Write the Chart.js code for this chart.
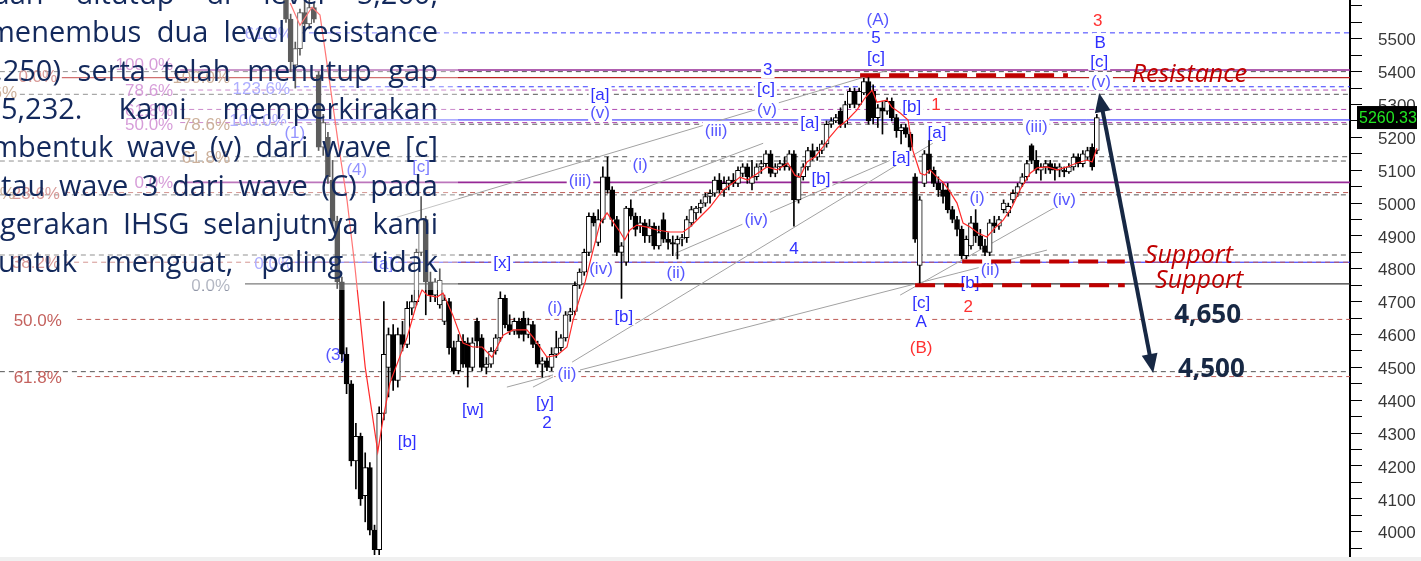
<!DOCTYPE html>
<html>
<head>
<meta charset="utf-8">
<script src="https://cdn.jsdelivr.net/npm/chart.js@4.4.1/dist/chart.umd.min.js"></script>
<style>
  body { margin: 0; background: #fff; }
  #wrap { position: relative; width: 1421px; height: 561px; overflow: hidden; background: #f0f0f0; }
  #chart { position: absolute; left: 0; top: 0; background: #fff; }
  #veil { position: absolute; left: 0; top: 0; width: 458px; height: 290px; background: rgba(255,255,255,0.36); }
  #para { position: absolute; left: 0; top: -25.9px; width: 458px; font: 29px "Open Sans", sans-serif; color: #13295c; }
  #para div { position: relative; height: 38.3px; line-height: 38.3px; display: flex; justify-content: space-between; white-space: nowrap; }
</style>
</head>
<body>
<div id="wrap">
  <canvas id="chart" width="1421" height="557" style="width:1421px;height:557px"></canvas>
  <div id="veil"></div>
  <div id="para"></div>
</div>
<script>
// daily IHSG candles (index 0 = first visible candle)
const opens = [5640,5560,5420,5470,5580,5545,5595,5390,5170,5200,
  5070,4945,4760,4540,4450,4215,4290,4110,4195,4005,
  3945,4360,4500,4600,4460,4600,4570,4680,4700,4850,
  4950,4760,4720,4690,4640,4700,4560,4490,4580,4575,
  4500,4640,4590,4500,4510,4550,4590,4710,4630,4610,
  4640,4650,4600,4630,4570,4510,4520,4500,4540,4560,
  4590,4660,4670,4750,4790,4850,4960,4880,4950,5080,
  5040,4950,4850,4820,4985,4960,4930,4940,4900,4930,
  4870,4950,4890,4880,4875,4890,4895,4940,4970,4985,
  5000,5020,5030,5070,5040,5060,5070,5060,5090,5110,
  5060,5080,5110,5120,5150,5090,5110,5120,5110,5150,
  5010,5080,5110,5160,5140,5160,5180,5240,5250,5280,
  5240,5300,5340,5300,5335,5370,5340,5260,5290,5280,
  5310,5260,5220,5230,5210,5080,4810,5060,5150,5100,
  5060,5040,5040,4980,4950,4920,4840,4870,4940,4900,
  4870,4850,4940,4930,4980,4970,5010,5030,5060,5080,
  5175,5130,5100,5110,5120,5110,5100,5100,5095,5110,
  5140,5120,5140,5170,5160];
const highs = [5670,5575,5490,5590,5620,5625,5610,5400,5270,5215,
  5130,4960,4775,4560,4460,4330,4300,4240,4210,4020,
  4380,4700,4620,4630,4620,4640,4700,4720,4860,5020,
  4960,4790,4770,4800,4720,4710,4580,4600,4600,4590,
  4590,4650,4600,4530,4560,4600,4730,4720,4660,4650,
  4650,4670,4650,4640,4580,4530,4530,4560,4610,4600,
  4670,4680,4760,4800,4860,4970,4970,4980,5110,5140,
  5050,4960,4880,4990,5010,4970,4960,4950,4950,4940,
  4930,4970,4910,4900,4900,4905,4960,4990,4990,5010,
  5030,5040,5080,5090,5080,5080,5090,5110,5120,5120,
  5130,5120,5130,5160,5160,5120,5130,5140,5160,5160,
  5090,5120,5170,5180,5170,5190,5250,5260,5270,5290,
  5310,5350,5350,5350,5380,5385,5360,5300,5310,5320,
  5320,5270,5240,5240,5215,5090,5020,5160,5190,5110,
  5080,5060,5060,4990,4960,4930,4900,4960,4980,4920,
  4890,4950,4960,4960,5010,5000,5040,5060,5090,5130,
  5180,5160,5120,5130,5130,5120,5120,5110,5120,5150,
  5150,5160,5170,5180,5270];
const lows = [5550,5400,5350,5450,5530,5530,5550,5160,5145,5060,
  4930,4740,4520,4420,4200,4130,4080,4030,3990,3930,
  3930,4340,4410,4430,4440,4550,4560,4660,4690,4840,
  4660,4700,4700,4680,4630,4540,4480,4480,4500,4440,
  4490,4560,4490,4480,4500,4540,4580,4620,4600,4600,
  4590,4580,4590,4560,4500,4470,4490,4490,4530,4550,
  4580,4640,4660,4740,4780,4840,4930,4870,4940,5030,
  4930,4840,4710,4810,4950,4900,4910,4880,4880,4860,
  4860,4880,4860,4840,4830,4870,4880,4930,4950,4970,
  4990,5000,5020,5030,5020,5040,5050,5050,5080,5060,
  5040,5070,5090,5110,5080,5080,5100,5100,5100,4930,
  5000,5070,5100,5130,5130,5150,5170,5230,5245,5230,
  5230,5290,5290,5295,5330,5240,5240,5230,5210,5270,
  5250,5200,5180,5200,5160,4880,4750,5050,5090,5050,
  5020,5000,4970,4940,4900,4830,4830,4860,4880,4860,
  4840,4840,4910,4920,4970,4960,5000,5020,5050,5070,
  5120,5090,5070,5090,5090,5070,5080,5080,5090,5100,
  5110,5110,5130,5100,5150];
const closes = [5560,5430,5470,5580,5545,5595,5560,5170,5245,5080,
  4945,4760,4540,4450,4215,4290,4100,4195,4005,3945,
  4360,4540,4600,4460,4600,4570,4680,4700,4850,4950,
  4760,4720,4760,4765,4705,4560,4490,4580,4510,4500,
  4575,4580,4500,4510,4550,4590,4710,4630,4610,4640,
  4600,4600,4630,4570,4510,4520,4500,4540,4560,4590,
  4660,4670,4750,4790,4850,4960,4940,4950,5080,5040,
  4950,4850,4870,4985,4960,4920,4940,4900,4930,4870,
  4910,4890,4880,4875,4890,4895,4950,4980,4985,5000,
  5020,5030,5070,5040,5060,5070,5060,5100,5110,5080,
  5080,5110,5120,5150,5090,5110,5120,5110,5150,5010,
  5080,5110,5160,5140,5160,5180,5240,5250,5260,5240,
  5300,5340,5300,5340,5370,5250,5260,5290,5280,5310,
  5260,5220,5230,5210,5170,4890,5010,5150,5100,5060,
  5040,5020,4980,4950,4920,4840,4890,4940,4900,4870,
  4850,4940,4930,4950,5000,4990,5030,5050,5080,5120,
  5130,5100,5110,5120,5100,5100,5110,5095,5110,5140,
  5120,5150,5160,5110,5260.33];

// red moving average, sampled along its path (candle index, price)
const maIdx = [0.9,3.0,5.6,7.3,9.4,11.2,13.1,14.8,17.0,19.7,20.8,22.3,26.0,28.1,29.2,
  30.3,32.4,33.7,35.8,38.0,40.1,42.1,44.2,45.3,46.6,48.7,51.7,53.0,56.0,58.2,
  60.3,61.6,63.1,64.2,65.9,67.4,68.9,70.2,71.7,72.7,73.8,75.3,77.5,79.6,82.4,
  85.2,86.7,88.8,91.0,93.8,95.9,97.4,99.1,100.6,103.2,105.4,107.7,109.2,110.3,111.8,
  113.5,115.2,116.7,118.5,120.4,122.5,124.2,125.8,126.8,129.0,130.0,131.8,133.5,134.5,136.1,
  137.1,138.2,139.7,141.0,142.5,144.0,145.3,146.8,148.5,150.4,152.1,153.9,155.8,157.5,159.7,
  161.2,163.3,165.5,167.6,169.7,171.9,173.0,174.0];
const maVal = [5609,5541,5596,5572,5365,5183,5009,4805,4501,4243,4340,4452,4592,4696,4736,
  4720,4714,4726,4659,4574,4562,4562,4531,4562,4598,4614,4614,4592,4531,4537,
  4562,4644,4714,4760,4857,4939,4970,4942,4912,4888,4918,4933,4927,4918,4912,
  4912,4927,4957,4988,5040,5061,5079,5070,5085,5110,5101,5122,5085,5079,5125,
  5140,5170,5201,5231,5252,5283,5319,5344,5307,5313,5292,5274,5253,5161,5091,
  5085,5101,5079,5064,5034,5000,4939,4927,4909,4897,4924,4948,4988,5040,5091,
  5107,5110,5101,5110,5122,5131,5125,5167];

// horizontal fibonacci / wave levels (price)
const levelPrices = [5518,5405,5400,5382,5354,5344,5331,5285,5253,5245,5240,5141,5128,
  5063,5032,5025,4842,4820,4820,4754,4646,4487,4472];

// support / resistance levels
const keyLevels = [5389, 4822, 4750];

// trend lines between wave points: [index, price]
const trendFrom = [[23.8,4957],[74.5,5033],[61.4,4516],[63.1,4492],[83.5,4847],[131.8,4720],[47.4,4440],[53.0,4440]];
const trendTo = [[129.0,5404],[102.4,5182],[138.8,5182],[163.3,4857],[131.3,5140],[168.9,5018],[57.3,4477],[57.3,4471]];

const yTickValues = [3950,4000,4050,4100,4150,4200,4250,4300,4350,4400,4450,4500,4550,4600,
  4650,4700,4750,4800,4850,4900,4950,5000,5050,5100,5150,5200,5250,5300,5350,5400,5450,5500,5550,5600];

const fibLabels = [
  ["61.8%",1.5,5518,"lav"],["100.0%",-24.2,5423,"pur"],["0.0%",-49.1,5387,"red"],
  ["100.0%",-12.0,5384,"brn"],["78.6%",-24.2,5344,"pur"],["123.6%",0.9,5350,"lav"],
  ["23.6%",-57.7,5338,"brn"],["61.8%",-24.2,5283,"pur"],["50.0%",-24.2,5240,"pur"],
  ["78.6%",-12.0,5240,"brn"],["100.0%",0.2,5253,"lav"],["61.8%",-12.0,5140,"brn"],
  ["0.0%",-24.2,5064,"pur"],["23.6%",-48.5,5031,"red"],["23.6%",-58.2,5031,"brn"],
  ["38.2%",-48.5,4821,"red"],["0.0%",1.5,4817,"lav"],["0.0%",-12.0,4750,"gry"],
  ["50.0%",-48.1,4644,"red"],["61.8%",-48.1,4470,"red"]
];

const waveLabels = [
  ["(A)",127.0,5560,"p"],["5",126.6,5505,"b"],["[c]",126.6,5444,"b"],
  ["3",103.4,5407,"b"],["[c]",103.0,5350,"b"],["(v)",103.2,5286,"p"],
  ["[a]",112.4,5247,"b"],["[b]",134.3,5293,"b"],["1",139.5,5301,"r"],
  ["[a]",139.7,5216,"b"],["[a]",132.0,5140,"b"],["[b]",114.8,5076,"b"],
  ["(iv)",100.9,4951,"p"],["4",109.0,4863,"b"],["(i)",148.3,5018,"p"],
  ["(iii)",161.0,5235,"p"],["(iv)",167.0,5012,"p"],["(ii)",151.1,4799,"p"],
  ["[b]",146.8,4759,"b"],["3",174.2,5557,"r"],["B",174.7,5490,"b"],
  ["[c]",174.5,5431,"b"],["(v)",174.9,5371,"p"],["[c]",136.3,4699,"b"],
  ["A",136.3,4641,"b"],["2",146.4,4686,"r"],["(B)",136.3,4562,"r"],
  ["[x]",46.4,4820,"b"],["(iv)",67.6,4802,"p"],["(ii)",83.7,4790,"p"],
  ["(iii)",63.1,5070,"p"],["(i)",76.0,5118,"p"],["[a]",67.4,5332,"b"],
  ["(v)",67.4,5277,"p"],["(iii)",92.3,5222,"p"],["(i)",57.7,4683,"p"],
  ["[b]",72.5,4656,"b"],["(ii)",60.3,4482,"p"],["[w]",40.1,4373,"b"],
  ["[y]",55.6,4394,"b"],["2",56.0,4333,"b"],["[b]",26.0,4275,"b"],
  ["(3)",10.7,4541,"p"],["(1)",1.9,5215,"p"],["(4)",15.2,5103,"p"],
  ["[c]",29.0,5112,"b"],["[a]",21.0,4817,"b"]
];

const notes = [
  ["Resistance",181.5,5368,"sr"],["Support",184.3,4817,"sr"],["Support",186.5,4741,"sr"],
  ["4,650",190.6,4635,"tg"],["4,500",191.4,4471,"tg"]
];
const arrowEnds = [[174.5,5335],[186.1,4483]];

const paraLines = [
  "dan ditutup di level 5,260,",
  "menembus dua level resistance",
  "(5,250) serta telah menutup gap",
  "5,232. Kami memperkirakan",
  "membentuk wave (v) dari wave [c]",
  "atau wave 3 dari wave (C) pada",
  "pergerakan IHSG selanjutnya kami",
  "untuk menguat, paling tidak"
];

// ---- layout / style ----
const X_MIN = -61.37, X_MAX = 228.33;
const Y_MIN = 3923, Y_MAX = 5618;
const paraLeft = [-8, -12, -30, 1, -52, -15, -46, -2];
const levelStart = [3.0,-22.7,-61.4,-48.1,1.9,-22.7,-57.1,-22.7,1.9,-22.7,-10.9,-10.9,-61.4,
  -22.7,-47.4,-61.4,-61.4,-47.4,1.9,-8.8,-44.8,-61.4,-44.8];
const levelKind = ["blueDash","purple","grey","red","blueDash","purpleDash","grey","purpleDash","blue",
  "purpleDash","grey","grey","grey","purple","redDash","grey","grey","redDash","blue","black",
  "redDash","grey","redDash"];
const kinds = {
  grey: { c: "#555555", w: 1, d: [5, 4] },
  blueDash: { c: "#3a3aff", w: 1, d: [5, 4] },
  blue: { c: "#2222ff", w: 1, d: [] },
  purple: { c: "#962896", w: 1.6, d: [] },
  purpleDash: { c: "#b04ab0", w: 1, d: [5, 4] },
  red: { c: "#b82020", w: 1.2, d: [] },
  redDash: { c: "#bd5a55", w: 1, d: [5, 4] },
  black: { c: "#333333", w: 1.2, d: [] }
};
const keyFrom = [123.2, 145.1, 135.0];
const keyTo = [167.8, 180.0, 180.0];
const fibColors = { lav: "#8080ff", pur: "#c066c4", brn: "#b08462", red: "#c4625e", gry: "#8a90a2" };
const waveColors = { b: "#3030ff", p: "#5656ff", r: "#ff3030" };
const LABEL_FONT = '17px "Liberation Sans", Arial, sans-serif';

// paragraph
const para = document.getElementById("para");
paraLines.forEach((line, k) => {
  const row = document.createElement("div");
  row.style.left = paraLeft[k] + "px";
  row.style.width = (438 - paraLeft[k]) + "px";
  line.split(" ").forEach(w => {
    const s = document.createElement("span");
    s.textContent = w;
    row.appendChild(s);
  });
  para.appendChild(row);
});

// datasets
const datasets = [];
levelPrices.forEach((p, k) => {
  const st = kinds[levelKind[k]];
  datasets.push({
    type: "line", data: [{ x: levelStart[k], y: p }, { x: X_MAX, y: p }],
    borderColor: st.c, borderWidth: st.w, borderDash: st.d, pointRadius: 0, order: 30
  });
});
trendFrom.forEach((a, k) => {
  datasets.push({
    type: "line", data: [{ x: a[0], y: a[1] }, { x: trendTo[k][0], y: trendTo[k][1] }],
    borderColor: "#a2a2a2", borderWidth: 1, pointRadius: 0, order: 20
  });
});
const idx = opens.map((_, i) => i);
datasets.push({
  type: "bar", role: "wick",
  data: idx.map(i => ({ x: i, y: [lows[i], highs[i]] })),
  backgroundColor: "#000", barThickness: 1, grouped: false, order: 5
});
datasets.push({
  type: "bar",
  data: idx.map(i => ({ x: i, y: [Math.min(opens[i], closes[i]), Math.max(opens[i], closes[i])] })),
  backgroundColor: idx.map(i => closes[i] >= opens[i] ? "#ffffff" : "#000000"),
  borderColor: "#000", borderWidth: 1, borderSkipped: false, minBarLength: 1,
  barThickness: 5, grouped: false, order: 4
});
datasets.push({
  type: "line", data: maIdx.map((v, k) => ({ x: v, y: maVal[k] })),
  borderColor: "#ff2a2a", borderWidth: 1.2, pointRadius: 0, tension: 0, order: 2
});
keyLevels.forEach((p, k) => {
  datasets.push({
    type: "line", data: [{ x: keyFrom[k], y: p }, { x: keyTo[k], y: p }],
    borderColor: "#c00000", borderWidth: 4, borderDash: [20, 9], pointRadius: 0, order: 1
  });
});

function arrowHead(ctx, x1, y1, x2, y2) {
  const a = Math.atan2(y2 - y1, x2 - x1), L = 19, W = 8;
  ctx.beginPath();
  ctx.moveTo(x2, y2);
  ctx.lineTo(x2 - L * Math.cos(a) + W * Math.sin(a), y2 - L * Math.sin(a) - W * Math.cos(a));
  ctx.lineTo(x2 - L * Math.cos(a) - W * Math.sin(a), y2 - L * Math.sin(a) + W * Math.cos(a));
  ctx.closePath();
  ctx.fill();
}

const decorations = {
  id: "decorations",
  beforeDatasetDraw(chart, args) {
    if (chart.data.datasets[args.index].role !== "wick") return;
    const { ctx, scales: { x, y } } = chart;
    ctx.save();
    ctx.font = LABEL_FONT;
    ctx.textBaseline = "middle";
    ctx.textAlign = "right";
    fibLabels.forEach(([t, i, p, c]) => {
      ctx.fillStyle = fibColors[c];
      ctx.fillText(t, x.getPixelForValue(i), y.getPixelForValue(p) + 1);
    });
    ctx.textAlign = "center";
    waveLabels.forEach(([t, i, p, c]) => {
      const cx = x.getPixelForValue(i), cy = y.getPixelForValue(p);
      const w = ctx.measureText(t).width + 4;
      ctx.fillStyle = "#fff";
      ctx.fillRect(cx - w / 2, cy - 9, w, 18);
      ctx.fillStyle = waveColors[c];
      ctx.fillText(t, cx, cy + 1);
    });
    ctx.restore();
  },
  afterDatasetsDraw(chart) {
    const { ctx, scales: { x, y } } = chart;
    ctx.save();
    // double-headed arrow
    const x1 = x.getPixelForValue(arrowEnds[0][0]), y1 = y.getPixelForValue(arrowEnds[0][1]);
    const x2 = x.getPixelForValue(arrowEnds[1][0]), y2 = y.getPixelForValue(arrowEnds[1][1]);
    const len = Math.hypot(x2 - x1, y2 - y1), ux = (x2 - x1) / len, uy = (y2 - y1) / len;
    ctx.strokeStyle = "#172844";
    ctx.fillStyle = "#172844";
    ctx.lineWidth = 4;
    ctx.beginPath();
    ctx.moveTo(x1 + ux * 14, y1 + uy * 14);
    ctx.lineTo(x2 - ux * 14, y2 - uy * 14);
    ctx.stroke();
    arrowHead(ctx, x2, y2, x1, y1);
    arrowHead(ctx, x1, y1, x2, y2);
    // notes
    ctx.textAlign = "left";
    ctx.textBaseline = "alphabetic";
    notes.forEach(([t, i, p, k]) => {
      if (k === "sr") { ctx.font = 'italic 25px "Open Sans", sans-serif'; ctx.fillStyle = "#c00000"; }
      else { ctx.font = 'bold 26px "Open Sans", sans-serif'; ctx.fillStyle = "#172844"; }
      ctx.fillText(t, x.getPixelForValue(i), y.getPixelForValue(p));
    });
    ctx.restore();
  },
  afterDraw(chart) {
    const { ctx, chartArea, scales: { y } } = chart;
    const last = closes[closes.length - 1];
    const yy = y.getPixelForValue(last);
    ctx.save();
    ctx.fillStyle = "#000";
    ctx.fillRect(chartArea.right + 7, yy - 11.5, 60, 23);
    ctx.fillStyle = "#22e622";
    ctx.font = '16px "Liberation Sans", Arial, sans-serif';
    ctx.textAlign = "left";
    ctx.textBaseline = "middle";
    ctx.fillText(last.toFixed(2), chartArea.right + 9, yy + 1);
    ctx.restore();
  }
};

new Chart(document.getElementById("chart").getContext("2d"), {
  type: "bar",
  data: { datasets },
  options: {
    responsive: false,
    animation: false,
    devicePixelRatio: 1,
    events: [],
    layout: { padding: 0 },
    plugins: { legend: { display: false }, tooltip: { enabled: false } },
    scales: {
      x: { type: "linear", display: false, min: X_MIN, max: X_MAX, offset: false },
      y: {
        position: "right",
        min: Y_MIN,
        max: Y_MAX,
        afterBuildTicks: s => { s.ticks = yTickValues.map(v => ({ value: v })); },
        afterFit: s => { s.width = 71; s.paddingTop = 0; s.paddingBottom = 0; },
        ticks: {
          autoSkip: false,
          padding: 16,
          labelOffset: 2,
          color: "#383838",
          font: { family: '"Liberation Sans", Arial, sans-serif', size: 17 },
          callback: v => (v % 100 === 0 && v <= 5500) ? String(v) : ""
        },
        grid: { drawOnChartArea: false, drawTicks: true, tickLength: 12, tickColor: "#000", tickWidth: 1 },
        border: { display: true, color: "#000", width: 2 }
      }
    }
  },
  plugins: [decorations]
});
</script>
</body>
</html>
